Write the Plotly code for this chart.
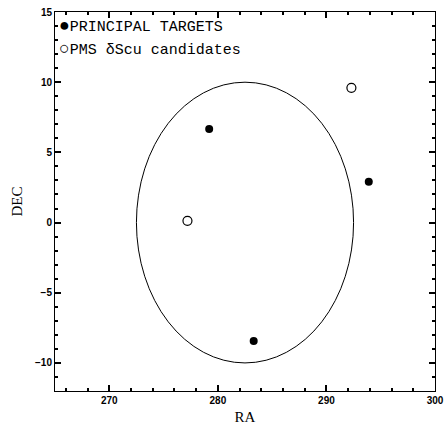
import plotly.graph_objects as go

# Data
principal_ra = [279.2, 293.9, 283.3]
principal_dec = [6.66, 2.9, -8.44]
pms_ra = [277.2, 292.3]
pms_dec = [0.12, 9.6]
eye_center = (282.5, 0.0)
eye_radius = 10.0
legend_symbols = ["\u25cf", "\u25cb"]
legend_labels = ["PRINCIPAL TARGETS", "PMS \u03b4Scu candidates"]
x_ticks = [270, 280, 290, 300]
y_ticks = [-10, -5, 0, 5, 10, 15]

fig = go.Figure()
fig.add_trace(go.Scatter(x=principal_ra, y=principal_dec, mode="markers",
                         marker=dict(symbol="circle", size=8, color="black"),
                         showlegend=False))
fig.add_trace(go.Scatter(x=pms_ra, y=pms_dec, mode="markers",
                         marker=dict(symbol="circle-open", size=9, color="black",
                                     line=dict(width=1.2, color="black")),
                         showlegend=False))

cx, cy = eye_center
fig.add_shape(type="circle", xref="x", yref="y",
              x0=cx - eye_radius, x1=cx + eye_radius,
              y0=cy - eye_radius, y1=cy + eye_radius,
              line=dict(color="black", width=1))

mono = "Liberation Mono, DejaVu Sans Mono, monospace"
serif = "Liberation Serif, Times New Roman, serif"
for i, lab in enumerate(legend_labels):
    txt = '<span style="font-size:18px">%s</span>%s' % (legend_symbols[i], lab)
    fig.add_annotation(x=0.006, y=[0.962, 0.902][i], xref="paper", yref="paper",
                       xanchor="left", yanchor="middle", text=txt, showarrow=False,
                       font=dict(family=mono, size=15, color="black"))

tickfont = dict(family="Liberation Sans, Arial, sans-serif", size=10, color="black")

fig.update_xaxes(range=[265, 300], tickmode="array", tickvals=x_ticks,
                 ticktext=["<b>%d</b>" % v for v in x_ticks],
                 showline=True, linecolor="black", linewidth=1, mirror="allticks",
                 ticks="inside", ticklen=6, tickcolor="black", tickwidth=1.5,
                 showgrid=False, zeroline=False, tickfont=tickfont, automargin=False,
                 minor=dict(ticks="inside", ticklen=3, dtick=2, tick0=0,
                            tickcolor="black", tickwidth=1.5, showgrid=False),
                 title=dict(text="RA", font=dict(family=serif, size=15, color="black"),
                            standoff=6))
fig.update_yaxes(range=[-12, 15], tickmode="array", tickvals=y_ticks,
                 ticktext=["<b>%s</b>" % ("\u2212%d" % -v if v < 0 else "%d" % v)
                           for v in y_ticks],
                 showline=True, linecolor="black", linewidth=1, mirror="allticks",
                 ticks="inside", ticklen=6, tickcolor="black", tickwidth=1.5,
                 showgrid=False, zeroline=False, tickfont=tickfont, automargin=False,
                 minor=dict(ticks="inside", ticklen=3, dtick=1, tick0=0,
                            tickcolor="black", tickwidth=1.5, showgrid=False),
                 title=dict(text="DEC", font=dict(family=serif, size=15, color="black"),
                            standoff=8))

fig.update_layout(template="none", width=446, height=425,
                  plot_bgcolor="white", paper_bgcolor="white",
                  margin=dict(l=55, r=11, t=12, b=34), showlegend=False)

fig.write_html("out.html", config={"displayModeBar": False},
               post_script="document.body.style.margin='0';document.body.style.overflow='hidden';")
